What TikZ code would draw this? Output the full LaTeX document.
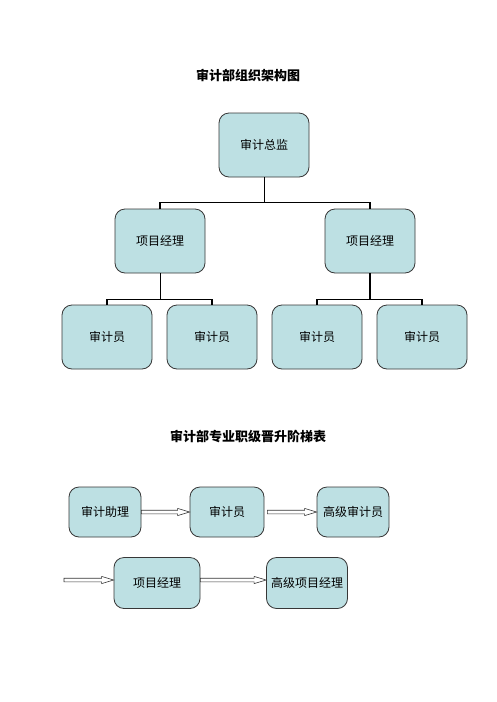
\documentclass[tikz,border=0pt]{standalone}
\usepackage{fontspec}
\newfontfamily\cjk{Noto Sans CJK SC}
\usetikzlibrary{calc}
\definecolor{azzurro}{RGB}{189,224,227}
\definecolor{bordo}{RGB}{55,55,55}
\tikzset{
  casella/.style={draw=bordo,fill=azzurro,line width=0.8pt,rounded corners=10pt,
    inner sep=0pt,minimum width=90pt,minimum height=64pt,
    font=\cjk\fontsize{12}{14}\selectfont},
  titolo/.style={font=\cjk\bfseries\fontsize{13}{15}\selectfont},
  filo/.style={line width=0.8pt},
  barra/.style={line width=1.8pt},
}
%freccia vuota da #1 a #2
\newcommand{\freccia}[2]{%
  \path (#1) coordinate (fa) (#2) coordinate (fb);
  \draw[bordo,line width=0.6pt,fill=white]
    ($(fa)+(0,-1.8)$) -- ($(fb)+(-12,-1.8)$) -- ($(fb)+(-12,-3.6)$) -- (fb)
    -- ($(fb)+(-12,3.6)$) -- ($(fb)+(-12,1.8)$) -- ($(fa)+(0,1.8)$) -- cycle;}
\begin{document}
\begin{tikzpicture}[x=1pt,y=-1pt]
    \useasboundingbox[fill=white](0,0)rectangle(496,702);
    %titoli
    \node[titolo] (tit1) at (248,75) {审计部组织架构图};
    \node[titolo] (tit2) at (248,437) {审计部专业职级晋升阶梯表};

    %organigramma
    \node[casella] (dir) at (264,145) {审计总监};
    \node[casella] (pm1) at (160,241) {项目经理};
    \node[casella] (pm2) at (370,241) {项目经理};
    \node[casella] (a1) at (107,337) {审计员};
    \node[casella] (a2) at (212,337) {审计员};
    \node[casella] (a3) at (317,337) {审计员};
    \node[casella] (a4) at (422,337) {审计员};

    %collegamenti
    \draw[filo] (dir.south) -- ++(0,25) coordinate (n0);
    \draw[barra] (pm1.north) -- (pm1.north |- n0) -- (pm2.north |- n0) -- (pm2.north);
    \draw[filo] (pm1.south) -- ++(0,26) coordinate (n1);
    \draw[barra] (a1.north) -- (a1.north |- n1) -- (a2.north |- n1) -- (a2.north);
    \draw[barra] (pm2.south) -- ++(0,26) coordinate (n2);
    \draw[barra] (a3.north) -- (a3.north |- n2) -- (a4.north |- n2) -- (a4.north);

    %scala di carriera
    \node[casella,minimum width=72pt,minimum height=50pt] (r1) at (105,512) {审计助理};
    \node[casella,minimum width=74pt,minimum height=50pt] (r2) at (227,512) {审计员};
    \node[casella,minimum width=72pt,minimum height=50pt] (r3) at (353,512) {高级审计员};
    \node[casella,minimum width=86pt,minimum height=51pt] (q1) at (157,583) {项目经理};
    \node[casella,minimum width=81pt,minimum height=51pt] (q2) at (307,583) {高级项目经理};
    \coordinate (q0) at (64,580);

    %frecce
    \freccia{r1.east}{r2.west}
    \freccia{$(r2.east)+(3,0)$}{r3.west}
    \freccia{q0}{q1.west |- q0}
    \freccia{q1.east |- q0}{q2.west |- q0}
\end{tikzpicture}
\end{document}
